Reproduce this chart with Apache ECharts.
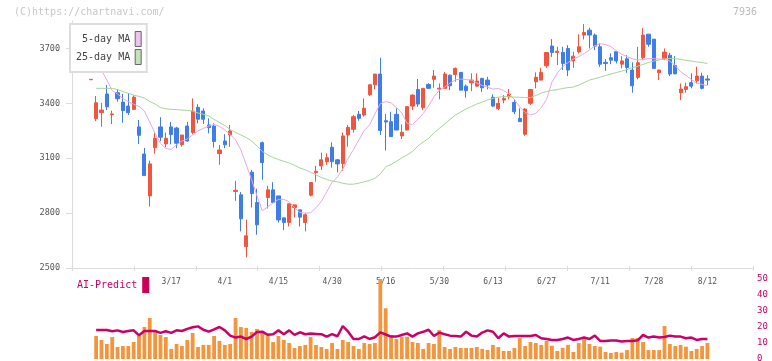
<!DOCTYPE html>
<html><head><meta charset="utf-8">
<script src="https://cdn.jsdelivr.net/npm/echarts@6/dist/echarts.min.js"></script>
<style>html,body{margin:0;padding:0;background:#fff}#c{width:772px;height:361px}</style>
</head><body><div id="c"></div>
<script>
const dates = ['2/18','2/19','2/20','2/21','2/25','2/26','2/27','2/28','3/3','3/4','3/5','3/6','3/7','3/10','3/11','3/12','3/13','3/14',
'3/17','3/18','3/19','3/21','3/24','3/25','3/26','3/27','3/28','3/31',
'4/1','4/2','4/3','4/4','4/7','4/8','4/9','4/10','4/11','4/14',
'4/15','4/16','4/17','4/18','4/21','4/22','4/23','4/24','4/25','4/28',
'4/30','5/1','5/2','5/7','5/8','5/9','5/12','5/13','5/14','5/15',
'5/16','5/19','5/20','5/21','5/22','5/23','5/26','5/27','5/28','5/29',
'5/30','6/2','6/3','6/4','6/5','6/6','6/9','6/10','6/11','6/12',
'6/13','6/16','6/17','6/18','6/19','6/20','6/23','6/24','6/25','6/26',
'6/27','6/30','7/1','7/2','7/3','7/4','7/7','7/8','7/9','7/10',
'7/11','7/14','7/15','7/16','7/17','7/18','7/22','7/23','7/24','7/25',
'7/28','7/29','7/30','7/31','8/1','8/4','8/5','8/6','8/7','8/8',
'8/12','8/13','8/14','8/15','8/18','8/19','8/20','8/21','8/22'];
const tickLabels = ['3/17','4/1','4/15','4/30','5/16','5/30','6/13','6/27','7/11','7/28','8/12'];
const priceTicks = [2500,2800,3100,3400,3700];
const openV = [null,null,null,3529,3316,3349,3451,3338,3458,3407,3385,3367,3271,3123,2894,3158,3271,3178,3271,3265,3174,3276,3240,3378,3358,3282,3276,3125,3194,3227,2918,2900,2616,3024,2858,3185,2885,2927,2894,2774,2749,2831,2818,2749,2898,3022,3058,3081,3160,3091,3071,3227,3258,3340,3336,3447,3501,3560,3305,3300,3340,3222,3254,3385,3476,3376,3503,3531,3478,3482,3554,3558,3569,3494,3512,3494,3536,3527,3433,3371,3418,3436,3405,3318,3231,3400,3518,3527,3605,3713,3678,3678,3700,3632,3681,3773,3800,3773,3709,3624,3649,3682,3614,3643,3582,3542,3649,3778,3751,3567,3645,3663,3607,3458,3476,3513,3523,3549,3533];
const closeV = [null,null,null,3531,3403,3363,3381,3342,3425,3360,3349,3434,3225,3005,3069,3209,3215,3209,3229,3182,3227,3194,3358,3313,3313,3267,3191,3145,3173,3249,2925,2769,2676,2907,2736,3076,2927,2858,2763,2749,2851,2845,2778,2791,2967,3029,3091,3103,3081,3069,3222,3269,3327,3318,3373,3501,3560,3251,3298,3218,3254,3242,3382,3445,3396,3482,3482,3549,3483,3560,3496,3591,3472,3469,3527,3522,3485,3500,3385,3400,3427,3451,3354,3300,3369,3476,3542,3569,3678,3678,3685,3618,3582,3658,3709,3787,3773,3713,3614,3618,3636,3632,3632,3596,3496,3622,3773,3723,3591,3582,3680,3560,3561,3478,3491,3494,3549,3482,3527];
const lowV = [null,null,null,3529,3303,3272,3363,3287,3409,3294,3336,3363,3178,3005,2836,3125,3193,3160,3176,3155,3163,3191,3231,3291,3287,3236,3158,3064,3155,3162,2867,2700,2558,2831,2682,2982,2825,2858,2749,2707,2727,2776,2727,2700,2891,2972,3036,3064,3049,3022,3031,3163,3240,3305,3327,3440,3476,3227,3142,3218,3254,3205,3254,3363,3381,3363,3482,3485,3422,3482,3472,3518,3472,3431,3467,3494,3463,3476,3381,3363,3400,3422,3340,3300,3222,3391,3482,3527,3594,3654,3609,3582,3549,3594,3672,3749,3700,3691,3600,3578,3614,3618,3591,3567,3458,3531,3636,3709,3591,3527,3636,3549,3561,3418,3458,3482,3509,3476,3500];
const highV = [null,null,null,3531,3440,3403,3500,3360,3476,3451,3456,3443,3309,3156,3087,3238,3324,3240,3298,3272,3227,3298,3427,3395,3373,3318,3291,3173,3231,3282,2976,2915,2764,3036,2933,3191,2949,2969,2894,2774,2851,2845,2818,2800,2967,3058,3131,3127,3187,3096,3240,3282,3336,3358,3427,3505,3560,3649,3342,3354,3373,3285,3382,3449,3533,3482,3510,3582,3509,3572,3558,3596,3569,3503,3564,3564,3540,3545,3449,3431,3445,3478,3423,3373,3373,3476,3569,3594,3678,3751,3709,3709,3718,3681,3778,3833,3813,3782,3727,3642,3673,3682,3658,3663,3624,3709,3811,3778,3751,3582,3700,3676,3658,3509,3513,3564,3600,3567,3554];
const ma5 = [null,null,null,null,3636,3582,3527,3470,3451,3426,3409,3395,3383,3358,3298,3235,3181,3153,3148,3173,3194,3205,3227,3249,3263,3276,3284,3274,3254,3230,3200,3145,3064,2982,2894,2813,2834,2856,2875,2875,2862,2829,2804,2800,2802,2829,2864,2916,2968,2998,3042,3099,3148,3200,3252,3282,3342,3399,3409,3403,3377,3347,3290,3284,3312,3344,3385,3436,3471,3489,3511,3528,3533,3530,3527,3511,3497,3488,3478,3481,3470,3451,3421,3380,3350,3336,3345,3377,3421,3516,3565,3601,3623,3642,3655,3672,3691,3715,3726,3721,3710,3688,3669,3655,3644,3637,3639,3645,3644,3642,3641,3631,3606,3573,3552,3530,3511,3503,3497];
const ma25 = [null,null,null,null,3482,3482,3482,3482,3475,3464,3455,3445,3438,3429,3410,3396,3377,3370,3367,3366,3363,3361,3358,3347,3340,3331,3312,3295,3279,3257,3241,3227,3213,3194,3167,3137,3118,3104,3093,3083,3074,3061,3047,3036,3023,3009,2995,2984,2976,2971,2963,2958,2958,2964,2971,2979,2990,3014,3053,3066,3083,3102,3118,3137,3167,3189,3208,3238,3263,3287,3312,3336,3353,3369,3383,3396,3407,3418,3427,3434,3437,3436,3434,3433,3431,3431,3443,3456,3464,3471,3475,3481,3486,3489,3500,3513,3527,3535,3543,3552,3560,3568,3576,3584,3595,3603,3613,3623,3631,3637,3642,3645,3644,3641,3635,3631,3626,3623,3618];
const volume = [null,null,null,null,14.4,11.9,9.4,13.7,7.5,8.1,8.1,10.6,14.4,20,25.6,17.5,15,13.7,6.3,9.4,8.1,11.9,16.3,7.5,8.8,8.8,14.4,11.3,8.8,9.4,25.6,20,19.4,16.9,18.8,16.9,14.4,10.6,14.4,11.9,10,6.9,8.1,8.8,13.7,8.8,7.5,6.3,10,6.3,11.9,10.6,8.1,6.3,10,9.4,10,50,31.7,15,12.5,13.9,13.9,10.6,10,6.3,10,9.4,18.1,7.5,6.3,7.5,6.9,6.9,6.9,7.5,6.3,5.6,8.8,7.5,5,5,6.9,13.1,8.1,10.6,10,8.8,11.3,8.3,5,7,8.8,4.4,10,12.5,9.4,8.1,7.7,4.4,3.8,4.4,4,5.6,13.1,13.1,10.6,5.6,5.6,5.6,20.6,9.4,8.1,8.8,7.7,5,6.3,8.1,10];
const aiPredict = [null,null,null,null,18.1,18.1,18.1,17.3,17.9,16.9,17.5,17.9,14.8,17.5,17.5,17.5,16.3,17.3,16.3,17.9,17.5,18.8,19.8,20.4,18.3,17.1,18.5,20,17.9,14.6,13.4,14,12.5,14,16.9,17.1,15.1,15.5,17.9,15.5,17.9,15.1,16.7,15.5,15.9,15.7,15.5,14,15.5,14.2,20.6,17.1,12.5,12.5,14.2,12.5,13.6,16.6,15.3,14,14,15,16,14,16,17,18.3,14.4,16.5,15.5,14.6,14.4,14,17,14.6,14,16.5,17.9,17,13,16,14,14.4,14.4,14.4,14.4,15,13,12.5,11.9,11.9,12.5,13.4,11.9,12.5,13.4,12.5,14.6,11.3,11.3,11.5,11.5,10.9,11.3,11.3,11.7,15,13.4,14,13.4,13.8,14.6,14,14,13,13.4,11.9,12.5,12.5];
const volTicks = [0,10,20,30,40,50];

const candles = openV.map((o,i)=> o==null ? '-' : [o, closeV[i], lowV[i], highV[i]]);
const FONT = 'DejaVu Sans Mono';
const chart = echarts.init(document.getElementById('c'), null, {renderer:'canvas'});
chart.setOption({
  animation:false,
  backgroundColor:'#fff',
  textStyle:{fontFamily:FONT},
  graphic:[
    {type:'text', left:14, top:7, style:{text:'(C)https://chartnavi.com/', fill:'#c8c8c8', font:'10px "DejaVu Sans Mono"'}},
    {type:'text', right:15, top:7, style:{text:'7936', fill:'#bbbbbb', font:'10px "DejaVu Sans Mono"'}}
  ],
  legend:[
    {data:[{name:'5-day MA', itemStyle:{color:'#efc2ef'}},{name:'25-day MA', itemStyle:{color:'#c4e2b8'}}],
     orient:'vertical', align:'right', left:70, top:24, padding:[7,5,7,6], itemGap:2,
     itemWidth:6, itemHeight:15, icon:'rect', selectedMode:false, z:10,
     backgroundColor:'#fff', borderColor:'#dddddd', borderWidth:2,
     itemStyle:{borderColor:'#666', borderWidth:1},
     textStyle:{fontFamily:FONT, fontSize:10, color:'#444'}},
    {data:[{name:'AI-Predict', itemStyle:{color:'#cc0055'}}],
     orient:'horizontal', align:'right', left:77, top:277, padding:0,
     itemWidth:7, itemHeight:16, icon:'rect', selectedMode:false,
     textStyle:{fontFamily:FONT, fontSize:10, color:'#cc0066'}}
  ],
  grid:[
    {left:72, right:19, top:21, bottom:93, outerBoundsMode:'none'},
    {left:72, right:19, top:279, bottom:2, outerBoundsMode:'none'}
  ],
  xAxis:[
    {type:'category', gridIndex:0, data:dates, boundaryGap:true,
     axisLine:{show:true, lineStyle:{color:'#dcdcdc', width:1}},
     axisTick:{show:false}, splitLine:{show:false},
     axisLabel:{show:true, interval:(i,v)=>tickLabels.includes(v), margin:10,
       fontFamily:FONT, fontSize:8, color:'#555'}},
    {type:'value', gridIndex:0, min:0, max:11, interval:1, position:'bottom', offset:-2,
     axisLine:{show:false}, axisLabel:{show:false}, splitLine:{show:false},
     axisTick:{show:true, length:5, lineStyle:{color:'#dcdcdc', width:1}}},
    {type:'category', gridIndex:1, data:dates, boundaryGap:true, show:false}
  ],
  yAxis:[
    {type:'value', gridIndex:0, min:2500, max:3850, position:'left',
     axisLine:{show:true, lineStyle:{color:'#dcdcdc', width:1}},
     axisTick:{show:true, length:6, customValues:priceTicks, lineStyle:{color:'#dcdcdc'}},
     splitLine:{show:false},
     axisLabel:{customValues:priceTicks, formatter:(v)=>String(v), margin:12, fontFamily:FONT, fontSize:8.5, color:'#555'}},
    {type:'value', gridIndex:1, min:0, max:50, interval:10, position:'right',
     axisLine:{show:false}, axisTick:{show:false}, splitLine:{show:false},
     axisLabel:{customValues:volTicks, formatter:(v)=>String(v), margin:4, fontFamily:FONT, fontSize:9, color:'#cc0066'}}
  ],
  series:[
    {type:'candlestick', name:'price', xAxisIndex:0, yAxisIndex:0, data:candles, barWidth:3.7,
     itemStyle:{color:'#f0553f', color0:'#3f7ee8', borderColor:'#f0553f', borderColor0:'#3f7ee8', borderWidth:1}},
    {type:'line', name:'5-day MA', xAxisIndex:0, yAxisIndex:0, data:ma5, showSymbol:false, symbol:'none',
     lineStyle:{color:'#e6a8e6', width:1}, itemStyle:{color:'#e6a8e6'}, z:3},
    {type:'line', name:'25-day MA', xAxisIndex:0, yAxisIndex:0, data:ma25, showSymbol:false, symbol:'none',
     lineStyle:{color:'#a8d49a', width:1}, itemStyle:{color:'#a8d49a'}, z:3},
    {type:'bar', name:'volume', xAxisIndex:2, yAxisIndex:1, data:volume, barWidth:3.8,
     itemStyle:{color:'#f2953c'}},
    {type:'line', name:'AI-Predict', xAxisIndex:2, yAxisIndex:1, data:aiPredict, showSymbol:false, symbol:'none',
     lineStyle:{color:'#cc0066', width:2.5}, itemStyle:{color:'#cc0066'}, z:3}
  ]
});
</script></body></html>
